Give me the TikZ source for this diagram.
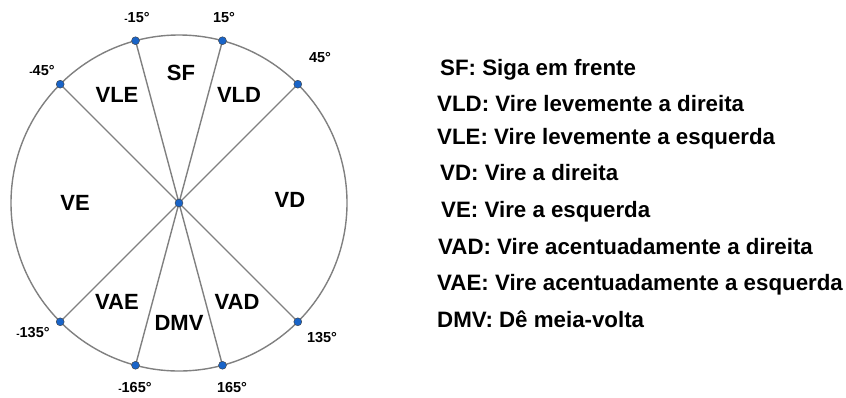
\documentclass[tikz,border=0pt]{standalone}
\usepackage{fontspec}
\setmainfont{Liberation Sans}
\newcommand{\smallminus}{{\fontsize{10}{11}\selectfont -}}
\definecolor{dotblue}{RGB}{25,100,200}
\definecolor{rimgray}{RGB}{128,128,128}
\begin{document}
\begin{tikzpicture}[x=1pt,y=-1pt,
  ray/.style={draw=rimgray, line width=1.4pt},
  rim/.style={draw=rimgray, line width=1.4pt},
  dot/.style={circle, fill=dotblue, draw=black!75, line width=0.4pt, inner sep=0pt, minimum size=8pt},
  sector/.style={font=\bfseries\fontsize{22}{26}\selectfont, inner sep=0pt},
  angle/.style={font=\bfseries\fontsize{14.5}{16}\selectfont, inner sep=0pt},
  legend/.style={font=\bfseries\fontsize{22.3}{26}\selectfont, anchor=base west, inner sep=0pt}]
\useasboundingbox (0,0) rectangle (846,397);
% center and rim points (angles measured clockwise from north)
\coordinate (O) at (179,203);
\def\R{168}
\foreach \a/\n in {15/p15, -15/m15, 45/p45, -45/m45, 135/p135, -135/m135, 165/p165, -165/m165}{
  \coordinate (\n) at ({179+\R*sin(\a)},{203-\R*cos(\a)});
}
\draw[rim] (O) circle (\R);
\foreach \n in {p15,m15,p45,m45,p135,m135,p165,m165}{
  \draw[ray] (O) -- (\n);
}
\foreach \n in {p15,m15,p45,m45,p135,m135,p165,m165}{
  \node[dot] (d\n) at (\n) {};
}
\node[dot] (dO) at (O) {};
% angle labels
\node[angle] (lm15) at (137,18) {\smallminus15°};
\node[angle] (lp15) at (224,18) {15°};
\node[angle] (lp45) at (320,58) {45°};
\node[angle] (lm45) at (42,71) {\smallminus45°};
\node[angle] (lm135) at (33,333) {\smallminus135°};
\node[angle] (lp135) at (322,338) {135°};
\node[angle] (lm165) at (135,388) {\smallminus165°};
\node[angle] (lp165) at (232,388) {165°};
% sector labels
\node[sector] (sSF) at (181,73) {SF};
\node[sector] (sVLE) at (117,95) {VLE};
\node[sector] (sVLD) at (239,95) {VLD};
\node[sector] (sVE) at (75,203) {VE};
\node[sector] (sVD) at (290,200) {VD};
\node[sector] (sVAE) at (117,302) {VAE};
\node[sector] (sDMV) at (179,323) {DMV};
\node[sector] (sVAD) at (237,302) {VAD};
% legend
\node[legend] (g1) at (440,75) {SF: Siga em frente};
\node[legend] (g2) at (437,111) {VLD: Vire levemente a direita};
\node[legend] (g3) at (437,144) {VLE: Vire levemente a esquerda};
\node[legend] (g4) at (440,180) {VD: Vire a direita};
\node[legend] (g5) at (441,217) {VE: Vire a esquerda};
\node[legend] (g6) at (438,254) {VAD: Vire acentuadamente a direita};
\node[legend] (g7) at (437,290) {VAE: Vire acentuadamente a esquerda};
\node[legend] (g8) at (437,327) {DMV: Dê meia-volta};
\end{tikzpicture}
\end{document}
